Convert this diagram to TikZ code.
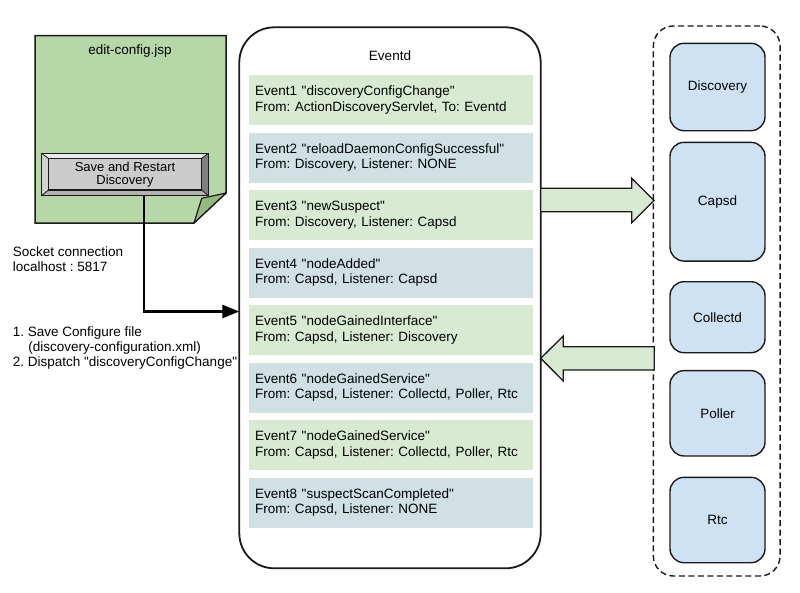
\documentclass[tikz,border=0pt]{standalone}
\usepackage{fontspec}
\setmainfont{Liberation Sans}[Ligatures=TeXOff]
\usetikzlibrary{arrows.meta,calc}
\definecolor{pagegreen}{HTML}{B6D7A8}
\definecolor{flapgreen}{HTML}{96B982}
\definecolor{evgreen}{HTML}{D9EAD3}
\definecolor{evblue}{HTML}{D0E0E3}
\definecolor{compblue}{HTML}{CFE2F3}
\definecolor{btngray}{HTML}{CCCCCC}
\definecolor{linec}{HTML}{1A1A1A}
\frenchspacing
\begin{document}
\begin{tikzpicture}[x=1pt,y=-1pt,
  font=\fontsize{13.5}{15.5}\selectfont,
  evbox/.style={minimum width=284, minimum height=50, text width=270.6,
    inner xsep=6.7, inner ysep=0, align=left, anchor=north west},
  comp/.style={draw=linec, line width=1.4, fill=compblue, rounded corners=14,
    minimum width=95, inner sep=0},
  bigarrow/.style={draw=linec, line width=1.3, fill=evgreen, line join=miter},
  txt/.style={inner sep=0, align=left, anchor=west}]
\useasboundingbox (0,0) rectangle (800,592);
\fill[white] (0,0) rectangle (800,592);

% edit-config page
\draw[linec, line width=1.5, fill=pagegreen] (35,35.7) -- (226,35.7) -- (226,193) -- (194,223) -- (35,223) -- cycle;
\draw[linec, line width=1.2, fill=flapgreen, line join=round] (226,193) -- (201.7,198.3) -- (194,223) -- cycle;
\node (pagetitle) at (130,50.7) {edit-config.jsp};

% button
\node[draw=linec, line width=1.5, fill=btngray, minimum width=166.6, minimum height=42.4, inner sep=0] (btn) at (125,174.5) {};
\fill[white!92!black] (41.7,153.3) -- (208.3,153.3) -- (201.7,158.3) -- (48.3,158.3) -- cycle;
\fill[white!82!black] (41.7,153.3) -- (48.3,158.3) -- (48.3,190) -- (41.7,195.7) -- cycle;
\fill[white!50!black] (208.3,153.3) -- (208.3,195.7) -- (201.7,190) -- (201.7,158.3) -- cycle;
\fill[white!70!black] (41.7,195.7) -- (208.3,195.7) -- (201.7,190) -- (48.3,190) -- cycle;
\draw[linec, line width=1.5] (41.7,153.3) rectangle (208.3,195.7);
\draw[linec, line width=1.2, fill=btngray] (48.3,158.3) rectangle (201.7,190);
\draw[linec, line width=0.8] (41.7,153.3) -- (48.3,158.3) (208.3,153.3) -- (201.7,158.3)
  (41.7,195.7) -- (48.3,190) (208.3,195.7) -- (201.7,190);
\node[align=center, font=\fontsize{13}{13.5}\selectfont] (btntext) at (125,174.5) {Save and Restart\\Discovery};

% left texts
\node[txt] (socket) at (12.7,259.3) {Socket connection\\localhost : 5817};
\node[txt, font=\fontsize{13.5}{14.7}\selectfont] (steps) at (12.7,348) {1. Save Configure file\\\hspace*{15.5pt}(discovery-configuration.xml)\\2. Dispatch "discoveryConfigChange"};

% Eventd container
\node[draw=linec, line width=1.8, rounded corners=35, minimum width=301.4, minimum height=541, inner sep=0] (evd) at (390,297.8) {};
\node (evdtitle) at (390,56) {Eventd};

\node[evbox, fill=evgreen] (e1) at (248.3,75) {Event1 "discoveryConfigChange"\\From: ActionDiscoveryServlet, To: Eventd};
\node[evbox, fill=evblue] (e2) at (248.3,132.5) {Event2 "reloadDaemonConfigSuccessful"\\From: Discovery, Listener: NONE};
\node[evbox, fill=evgreen] (e3) at (248.3,190) {Event3 "newSuspect"\\From: Discovery, Listener: Capsd};
\node[evbox, fill=evblue] (e4) at (248.3,247.5) {Event4 "nodeAdded"\\From: Capsd, Listener: Capsd};
\node[evbox, fill=evgreen] (e5) at (248.3,305) {Event5 "nodeGainedInterface"\\From: Capsd, Listener: Discovery};
\node[evbox, fill=evblue] (e6) at (248.3,362.5) {Event6 "nodeGainedService"\\From: Capsd, Listener: Collectd, Poller, Rtc};
\node[evbox, fill=evgreen] (e7) at (248.3,420) {Event7 "nodeGainedService"\\From: Capsd, Listener: Collectd, Poller, Rtc};
\node[evbox, fill=evblue] (e8) at (248.3,477.5) {Event8 "suspectScanCompleted"\\From: Capsd, Listener: NONE};

% dashed group
\node[draw=linec, line width=1.4, dash pattern=on 6pt off 3.5pt, rounded corners=20, minimum width=126.7, minimum height=550, inner sep=0] (grp) at (716.7,301) {};
\node[comp, minimum height=87.4] (discovery) at (717.5,87) {Discovery};
\node[comp, minimum height=118.7] (capsd) at (717.5,201.7) {Capsd};
\node[comp, minimum height=71] (collectd) at (717.5,317.2) {Collectd};
\node[comp, minimum height=85.3] (poller) at (717.5,413.3) {Poller};
\node[comp, minimum height=85.4] (rtc) at (717.5,520) {Rtc};

% big arrows
\draw[bigarrow] (540.7,188.3) -- (631.7,188.3) -- (631.7,178.3) -- (654,200.5) -- (631.7,222.7) -- (631.7,211.7) -- (540.7,211.7) -- cycle;
\draw[bigarrow] (654.3,346.7) -- (563.3,346.7) -- (563.3,336) -- (540.7,358.3) -- (563.3,381) -- (563.3,370) -- (654.3,370) -- cycle;

% socket connector
\coordinate (lx) at (144,0);
\coordinate (tip) at (239.3,311.5);
\draw[black, line width=2.6, -{Triangle[length=17pt,width=13pt]}] (btn.south -| lx) |- (tip);
\end{tikzpicture}
\end{document}
